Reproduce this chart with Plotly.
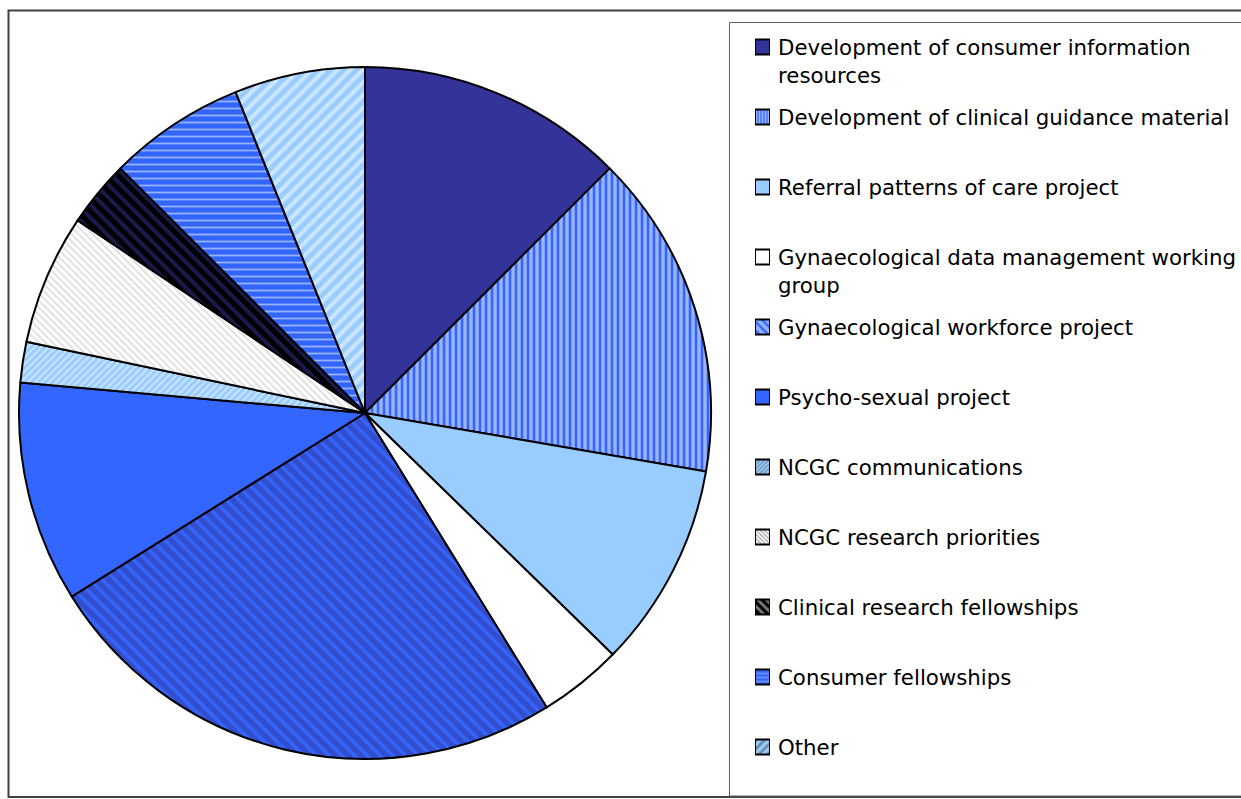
import plotly.graph_objects as go

W, H = 1241, 799

labels = [
    "Development of consumer information<br>resources",
    "Development of clinical guidance material",
    "Referral patterns of care project",
    "Gynaecological data management working<br>group",
    "Gynaecological workforce project",
    "Psycho-sexual project",
    "NCGC communications",
    "NCGC research priorities",
    "Clinical research fellowships",
    "Consumer fellowships",
    "Other",
]
values = [12.5, 15.2, 9.6, 3.9, 24.9, 10.3, 1.9, 6.1, 3.1, 6.4, 6.1]

bg_colors = ["#333399", "#3366FF", "#99CCFF", "#FFFFFF", "#3366FF", "#3366FF",
             "#99CCFF", "#FFFFFF", "#000000", "#3366FF", "#99CCFF"]
fg_colors = ["#333399", "#FFFFFF", "#99CCFF", "#FFFFFF", "#333399", "#3366FF",
             "#FFFFFF", "#C0C0C0", "#333399", "#FFFFFF", "#FFFFFF"]
shapes_pat = ["", "|", "", "", "\\", "", "/", "\\", "\\", "-", "/"]
pat_size = [8, 6, 8, 8, 9, 8, 5, 5, 9, 7, 9]
pat_solid = [0.3, 0.58, 0.3, 0.3, 0.62, 0.3, 0.4, 0.4, 0.45, 0.25, 0.45]

def px_x(v):
    return v / W

def px_y(v):
    return 1 - v / H

# pie geometry (pixels)
cx, cy, r = 365, 413, 346

fig = go.Figure()
fig.add_trace(go.Pie(
    labels=labels, values=values, sort=False, direction="clockwise", rotation=0,
    textinfo="none", hoverinfo="label+percent", showlegend=False,
    marker=dict(colors=bg_colors, line=dict(color="#000000", width=2),
                pattern=dict(shape=shapes_pat, fgcolor=fg_colors, bgcolor=bg_colors,
                             size=pat_size, solidity=pat_solid, fillmode="overlay")),
    domain=dict(x=[px_x(cx - r), px_x(cx + r)], y=[px_y(cy + r), px_y(cy - r)]),
))

# legend symbols as tiny patterned bars
row_h = 70
first_c = 46.5
fig.add_trace(go.Bar(
    y=labels, x=[1] * len(labels), orientation="h", width=15 / row_h,
    showlegend=False, hoverinfo="skip",
    marker=dict(color=bg_colors, line=dict(color="#000000", width=2),
                pattern=dict(shape=shapes_pat, fgcolor=fg_colors, bgcolor=bg_colors,
                             size=[max(3, s - 3) for s in pat_size], solidity=pat_solid,
                             fillmode="overlay")),
    xaxis="x", yaxis="y",
))

top_px = first_c - row_h / 2
bot_px = top_px + row_h * len(labels)
fig.update_layout(
    width=W, height=H, margin=dict(l=0, r=0, t=0, b=0),
    paper_bgcolor="white", plot_bgcolor="rgba(0,0,0,0)",
    xaxis=dict(domain=[px_x(755), px_x(770)], range=[0, 1], visible=False, fixedrange=True),
    yaxis=dict(domain=[px_y(bot_px), px_y(top_px)], type="category",
               range=[len(labels) - 0.5, -0.5], visible=False, fixedrange=True),
    bargap=0,
)

annotations = []
for i, lab in enumerate(labels):
    yc = first_c + row_h * i
    annotations.append(dict(
        xref="paper", yref="paper", x=px_x(776), y=px_y(yc - 13.5),
        xanchor="left", yanchor="top", align="left", showarrow=False,
        text=lab, font=dict(family="DejaVu Sans", size=21.3, color="#000000"),
    ))
fig.update_layout(annotations=annotations)

fig.update_layout(shapes=[
    dict(type="rect", xref="paper", yref="paper", x0=px_x(8.5), x1=px_x(1250),
         y0=px_y(797), y1=px_y(10.5), line=dict(color="#404040", width=2)),
    dict(type="rect", xref="paper", yref="paper", x0=px_x(729.5), x1=px_x(1250),
         y0=px_y(796), y1=px_y(22.5), line=dict(color="#606060", width=1)),
])

fig.write_html(
    "out.html",
    config={"displayModeBar": False},
    post_script="document.body.style.margin='0';document.body.style.overflow='hidden';",
)
